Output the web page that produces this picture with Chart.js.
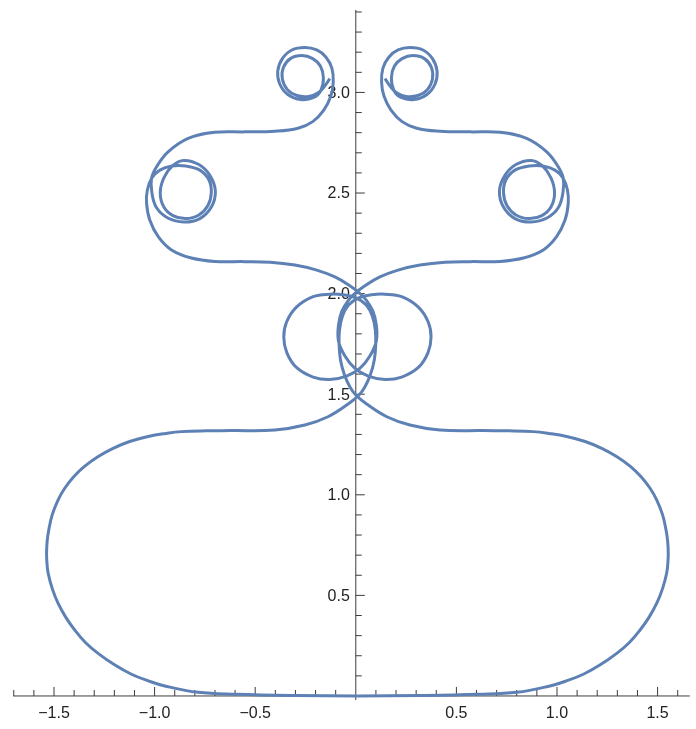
<!DOCTYPE html>
<html>
<head>
<meta charset="utf-8">
<script src="https://cdn.jsdelivr.net/npm/chart.js@4.4.1/dist/chart.umd.min.js"></script>
<style>
  html, body { margin: 0; padding: 0; background: #fff; }
  canvas { display: block; }
</style>
</head>
<body>
<canvas id="curveChart" width="696" height="729"></canvas>
<script>
// right arm of the curve, from the bottom centre out to the top spiral
const rightArm = [
    [0.008, 0], [0.319, 0.002], [0.609, 0.008], [0.800, 0.018], [0.965, 0.050],
    [1.050, 0.076], [1.131, 0.108], [1.215, 0.155], [1.297, 0.212], [1.360, 0.266],
    [1.413, 0.328], [1.458, 0.392], [1.496, 0.461], [1.525, 0.535], [1.545, 0.610],
    [1.551, 0.660], [1.553, 0.709], [1.550, 0.770], [1.542, 0.825], [1.525, 0.900],
    [1.496, 0.974], [1.461, 1.035], [1.418, 1.090], [1.366, 1.140], [1.300, 1.188],
    [1.225, 1.230], [1.140, 1.265], [1.048, 1.290], [0.960, 1.305], [0.882, 1.314],
    [0.760, 1.318], [0.634, 1.319], [0.418, 1.322], [0.269, 1.347], [0.154, 1.388],
    [0.054, 1.451], [0.000, 1.496], [-0.029, 1.536], [-0.056, 1.595], [-0.076, 1.670],
    [-0.083, 1.745], [-0.081, 1.819], [-0.066, 1.889], [-0.036, 1.943], [0.012, 1.978],
    [0.079, 1.994], [0.145, 1.997], [0.228, 1.985], [0.311, 1.933], [0.360, 1.859],
    [0.374, 1.784], [0.359, 1.707], [0.311, 1.633], [0.228, 1.585], [0.145, 1.573],
    [0.062, 1.590], [-0.004, 1.628], [-0.054, 1.690], [-0.086, 1.764], [-0.086, 1.844],
    [-0.069, 1.913], [-0.036, 1.968], [0.000, 2.005], [0.051, 2.043], [0.120, 2.083],
    [0.210, 2.117], [0.319, 2.142], [0.443, 2.156], [0.568, 2.159], [0.717, 2.160],
    [0.833, 2.177], [0.932, 2.217], [0.998, 2.283], [1.040, 2.366], [1.056, 2.450],
    [1.052, 2.515], [1.030, 2.575], [0.990, 2.614], [0.930, 2.634], [0.861, 2.634],
    [0.791, 2.614], [0.747, 2.567], [0.734, 2.503], [0.751, 2.438], [0.796, 2.391],
    [0.861, 2.373], [0.925, 2.388], [0.970, 2.430], [0.988, 2.500], [0.970, 2.575],
    [0.925, 2.637], [0.872, 2.662], [0.796, 2.642], [0.742, 2.589], [0.714, 2.510],
    [0.734, 2.430], [0.791, 2.373], [0.871, 2.356], [0.950, 2.376], [1.007, 2.428],
    [1.030, 2.505], [1.031, 2.575], [1.006, 2.631], [0.949, 2.705], [0.849, 2.772],
    [0.717, 2.802], [0.568, 2.804], [0.418, 2.807], [0.303, 2.822], [0.230, 2.855],
    [0.175, 2.912], [0.140, 2.982], [0.128, 3.052], [0.135, 3.121], [0.165, 3.176],
    [0.210, 3.211], [0.269, 3.223], [0.334, 3.211], [0.381, 3.168], [0.404, 3.106],
    [0.394, 3.042], [0.354, 2.990], [0.289, 2.965], [0.225, 2.975], [0.190, 3.009],
    [0.177, 3.072], [0.192, 3.131], [0.230, 3.168], [0.284, 3.183], [0.341, 3.168],
    [0.376, 3.124], [0.381, 3.067], [0.356, 3.014], [0.309, 2.985], [0.250, 2.980],
    [0.205, 2.997], [0.172, 3.029], [0.145, 3.069]
];

// left arm, same path on the other side
const leftArm = [
    [0.008, 0], [-0.303, 0.002], [-0.593, 0.008], [-0.784, 0.018], [-0.949, 0.050],
    [-1.034, 0.076], [-1.115, 0.108], [-1.199, 0.155], [-1.281, 0.212], [-1.344, 0.266],
    [-1.397, 0.328], [-1.442, 0.392], [-1.480, 0.461], [-1.509, 0.535], [-1.529, 0.610],
    [-1.535, 0.660], [-1.537, 0.709], [-1.534, 0.770], [-1.526, 0.825], [-1.509, 0.900],
    [-1.480, 0.974], [-1.445, 1.035], [-1.402, 1.090], [-1.350, 1.140], [-1.284, 1.188],
    [-1.209, 1.230], [-1.124, 1.265], [-1.032, 1.290], [-0.944, 1.305], [-0.866, 1.314],
    [-0.744, 1.318], [-0.618, 1.319], [-0.402, 1.322], [-0.253, 1.347], [-0.138, 1.388],
    [-0.038, 1.451], [0.016, 1.496], [0.045, 1.536], [0.072, 1.595], [0.092, 1.670],
    [0.099, 1.745], [0.097, 1.819], [0.082, 1.889], [0.052, 1.943], [0.004, 1.978],
    [-0.063, 1.994], [-0.129, 1.997], [-0.212, 1.985], [-0.295, 1.933], [-0.344, 1.859],
    [-0.358, 1.784], [-0.343, 1.707], [-0.295, 1.633], [-0.212, 1.585], [-0.129, 1.573],
    [-0.046, 1.590], [0.020, 1.628], [0.070, 1.690], [0.102, 1.764], [0.102, 1.844],
    [0.085, 1.913], [0.052, 1.968], [0.016, 2.005], [-0.035, 2.043], [-0.104, 2.083],
    [-0.194, 2.117], [-0.303, 2.142], [-0.427, 2.156], [-0.552, 2.159], [-0.701, 2.160],
    [-0.817, 2.177], [-0.916, 2.217], [-0.982, 2.283], [-1.024, 2.366], [-1.040, 2.450],
    [-1.036, 2.515], [-1.014, 2.575], [-0.974, 2.614], [-0.914, 2.634], [-0.845, 2.634],
    [-0.775, 2.614], [-0.731, 2.567], [-0.718, 2.503], [-0.735, 2.438], [-0.780, 2.391],
    [-0.845, 2.373], [-0.909, 2.388], [-0.954, 2.430], [-0.972, 2.500], [-0.954, 2.575],
    [-0.909, 2.637], [-0.856, 2.662], [-0.780, 2.642], [-0.726, 2.589], [-0.698, 2.510],
    [-0.718, 2.430], [-0.775, 2.373], [-0.855, 2.356], [-0.934, 2.376], [-0.991, 2.428],
    [-1.014, 2.505], [-1.015, 2.575], [-0.990, 2.631], [-0.933, 2.705], [-0.833, 2.772],
    [-0.701, 2.802], [-0.552, 2.804], [-0.402, 2.807], [-0.287, 2.822], [-0.214, 2.855],
    [-0.159, 2.912], [-0.124, 2.982], [-0.112, 3.052], [-0.119, 3.121], [-0.149, 3.176],
    [-0.194, 3.211], [-0.253, 3.223], [-0.318, 3.211], [-0.365, 3.168], [-0.388, 3.106],
    [-0.378, 3.042], [-0.338, 2.990], [-0.273, 2.965], [-0.209, 2.975], [-0.174, 3.009],
    [-0.161, 3.072], [-0.176, 3.131], [-0.214, 3.168], [-0.268, 3.183], [-0.325, 3.168],
    [-0.360, 3.124], [-0.365, 3.067], [-0.340, 3.014], [-0.293, 2.985], [-0.234, 2.980],
    [-0.189, 2.997], [-0.156, 3.029], [-0.129, 3.069]
];

const xTickLabels = [-1.5, -1.0, -0.5, 0.5, 1.0, 1.5];
const yTickLabels = [0.5, 1.0, 1.5, 2.0, 2.5, 3.0];

const curveColor = "rgb(94, 129, 181)";
const axisColor = "#3c3c3c";

function toPoints(arm) {
    return arm.map((p) => ({ x: p[0], y: p[1] }));
}

function fmt(v) {
    return v.toFixed(1).replace("-", "\u2212");
}

// axes crossing at the origin, ticks pointing into the plot
const crossedAxes = {
    id: "crossedAxes",
    beforeDatasetsDraw(chart) {
        const ctx = chart.ctx;
        const xs = chart.scales.x;
        const ys = chart.scales.y;
        const x0 = xs.getPixelForValue(0);
        const y0 = ys.getPixelForValue(0);

        ctx.save();
        ctx.strokeStyle = axisColor;
        ctx.lineWidth = 1;
        ctx.beginPath();
        ctx.moveTo(xs.getPixelForValue(-1.703), y0);
        ctx.lineTo(xs.getPixelForValue(1.66), y0);
        ctx.moveTo(x0, ys.getPixelForValue(3.41));
        ctx.lineTo(x0, ys.getPixelForValue(-0.02));
        ctx.stroke();

        ctx.beginPath();
        for (let i = -17; i <= 16; i++) {
            if (i === 0) continue;
            const px = xs.getPixelForValue(i / 10);
            const len = i % 5 === 0 ? 9 : 6;
            ctx.moveTo(px, y0);
            ctx.lineTo(px, y0 - len);
        }
        for (let i = 1; i <= 34; i++) {
            const py = ys.getPixelForValue(i / 10);
            const len = i % 5 === 0 ? 9 : 6;
            ctx.moveTo(x0, py);
            ctx.lineTo(x0 + len, py);
        }
        ctx.stroke();

        ctx.fillStyle = "#222";
        ctx.font = "16px 'Liberation Sans', Arial, sans-serif";
        ctx.textAlign = "center";
        ctx.textBaseline = "middle";
        xTickLabels.forEach((v) => {
            ctx.fillText(fmt(v), xs.getPixelForValue(v), y0 + 18);
        });
        ctx.textAlign = "right";
        yTickLabels.forEach((v) => {
            ctx.fillText(fmt(v), x0 - 6, ys.getPixelForValue(v) + 1);
        });
        ctx.restore();
    },
};

const lineStyle = {
    showLine: true,
    borderColor: curveColor,
    borderWidth: 3,
    pointRadius: 0,
    tension: 0.4,
    fill: false,
    borderJoinStyle: "round",
};

new Chart(document.getElementById("curveChart").getContext("2d"), {
    type: "scatter",
    data: {
        datasets: [
            Object.assign({ data: toPoints(rightArm) }, lineStyle),
            Object.assign({ data: toPoints(leftArm) }, lineStyle),
        ],
    },
    options: {
        responsive: false,
        animation: false,
        events: [],
        layout: {
            padding: { left: 9.74, right: 2.2, top: 1.9, bottom: 12.9 },
        },
        scales: {
            x: { type: "linear", min: -1.72, max: 1.68, display: false },
            y: { type: "linear", min: -0.1, max: 3.45, display: false },
        },
        plugins: {
            legend: { display: false },
            tooltip: { enabled: false },
        },
    },
    plugins: [crossedAxes],
});
</script>
</body>
</html>
